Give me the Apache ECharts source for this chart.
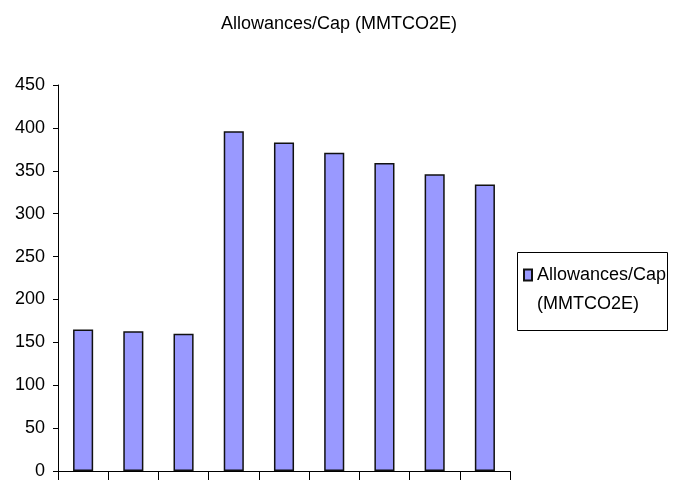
<!DOCTYPE html>
<html>
<head>
<meta charset="utf-8">
<script src="https://cdn.jsdelivr.net/npm/echarts@6/dist/echarts.min.js"></script>
<style>
  html, body { margin: 0; padding: 0; background: #fff; }
  #chart { width: 678px; height: 482px; }
</style>
</head>
<body>
<div id="chart"></div>
<script>
  const seriesName = 'Allowances/Cap (MMTCO2E)';
  const categories = ['1', '2', '3', '4', '5', '6', '7', '8', '9'];
  const capValues = [165, 163, 160, 396, 383, 371, 359, 346, 334];
  const yTicks = [0, 50, 100, 150, 200, 250, 300, 350, 400, 450];

  const font = '"Liberation Sans", Arial, sans-serif';
  const chart = echarts.init(document.getElementById('chart'));

  // legend label wraps over two lines; the icon sits next to the first one
  const options = {
    animation: false,
    textStyle: { fontFamily: font },
    title: {
      text: seriesName,
      left: 'center',
      top: 10,
      textStyle: { color: '#000', fontSize: 18, fontWeight: 'normal', fontFamily: font }
    },
    legend: {
      left: 523,
      top: 264,
      padding: 0,
      icon: 'rect',
      itemWidth: 8,
      itemHeight: 11,
      formatter: () => 'Allowances/Cap',
      textStyle: { color: '#000', fontSize: 18, lineHeight: 22, fontFamily: font },
      data: [seriesName]
    },
    graphic: [
      {
        type: 'rect',
        left: 515,
        top: 250,
        shape: { width: 150, height: 78 },
        style: { fill: 'none', stroke: '#000', lineWidth: 1 }
      },
      {
        type: 'text',
        left: 537,
        top: 295,
        style: { text: '(MMTCO2E)', fill: '#000', fontSize: 18, fontFamily: font }
      }
    ],
    grid: {
      left: 58,
      right: 168,
      top: 85,
      bottom: 11
    },
    xAxis: {
      type: 'category',
      data: categories,
      axisLine: { lineStyle: { color: '#000', width: 1 } },
      axisTick: { show: true, length: 9, inside: false, lineStyle: { color: '#000' } },
      axisLabel: { show: false }
    },
    yAxis: {
      type: 'value',
      min: yTicks[0],
      max: yTicks[yTicks.length - 1],
      interval: 50,
      axisLine: { show: true, lineStyle: { color: '#000', width: 1 } },
      axisTick: { show: true, length: 5, lineStyle: { color: '#000' } },
      axisLabel: { color: '#000', fontSize: 18, margin: 13, fontFamily: font },
      splitLine: { show: false }
    },
    series: [
      {
        name: seriesName,
        type: 'bar',
        barWidth: '40%',
        itemStyle: {
          color: '#9999FF',
          borderColor: '#111',
          borderWidth: 1.5
        },
        data: capValues
      }
    ]
  };
  chart.setOption(options);
</script>
</body>
</html>
